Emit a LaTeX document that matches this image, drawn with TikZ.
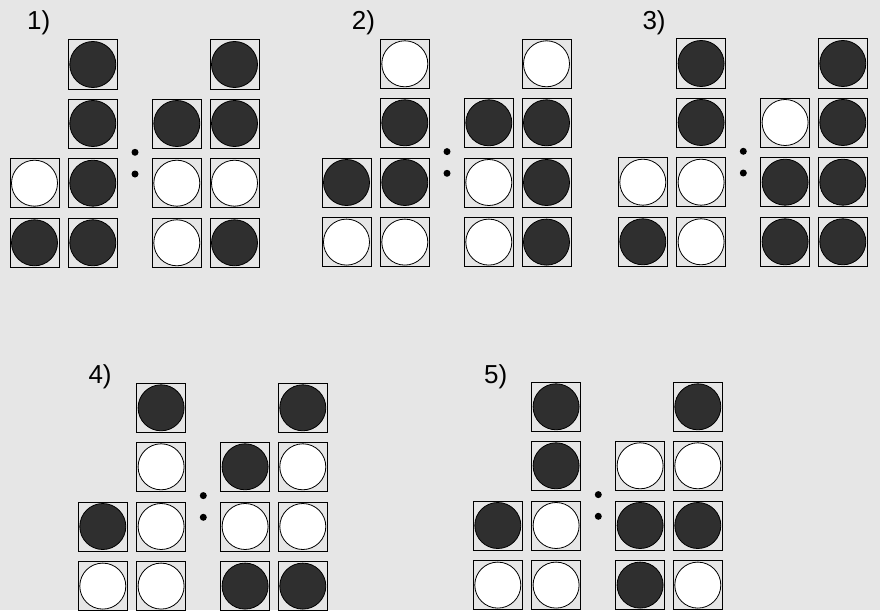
\documentclass[tikz,border=0pt]{standalone}
\usepackage{fontspec}
\setmainfont{Liberation Sans}
\definecolor{bgc}{HTML}{E6E6E6}
\definecolor{darkc}{HTML}{2F2F2F}
\newcommand\drawpanel[3]{%
  \begin{scope}[shift={(#1,#2)}]
  \foreach \c/\r/\t in {#3}{%
    \pgfmathsetmacro\xx{{0,58.3,142.3,200}[\c]}%
    \pgfmathsetmacro\yy{{0,59,118.7,178.3}[\r]}%
    \draw[sq] (\xx,\yy) rectangle ++(49,49);
    \draw[\t] (\xx+24.5,\yy+24.5) circle (23);
  }
  \fill (125,112.3) circle (3.5);
  \fill (125,134) circle (3.5);
  \end{scope}}
\begin{document}
\begin{tikzpicture}[x=1pt,y=-1pt,
  sq/.style={draw=black,line width=1pt,fill=bgc},
  blk/.style={draw=black,line width=0.8pt,fill=darkc},
  wht/.style={draw=black,line width=0.8pt,fill=white},
  lbl/.style={inner sep=0pt,anchor=base west,font=\fontsize{26}{30}\selectfont}]
\fill[bgc] (0,0) rectangle (880,610);
\useasboundingbox (0,0) rectangle (880,610);
% panel 1
\node[lbl] (l1) at (27,30) {1)};
\drawpanel{10}{40}{1/0/blk,3/0/blk,1/1/blk,2/1/blk,3/1/blk,0/2/wht,1/2/blk,2/2/wht,3/2/wht,0/3/blk,1/3/blk,2/3/wht,3/3/blk}
% panel 2
\node[lbl] (l2) at (351.7,30) {2)};
\drawpanel{322}{39.3}{1/0/wht,3/0/wht,1/1/blk,2/1/blk,3/1/blk,0/2/blk,1/2/blk,2/2/wht,3/2/blk,0/3/wht,1/3/wht,2/3/wht,3/3/blk}
% panel 3
\node[lbl] (l3) at (642.3,30) {3)};
\drawpanel{618.3}{39}{1/0/blk,3/0/blk,1/1/blk,2/1/wht,3/1/blk,0/2/wht,1/2/wht,2/2/blk,3/2/blk,0/3/blk,1/3/wht,2/3/blk,3/3/blk}
% panel 4
\node[lbl] (l4) at (88.3,383.3) {4)};
\drawpanel{78.3}{383.3}{1/0/blk,3/0/blk,1/1/wht,2/1/blk,3/1/wht,0/2/blk,1/2/wht,2/2/wht,3/2/wht,0/3/wht,1/3/wht,2/3/blk,3/3/blk}
% panel 5
\node[lbl] (l5) at (484,383) {5)};
\drawpanel{473.3}{382.3}{1/0/blk,3/0/blk,1/1/blk,2/1/wht,3/1/wht,0/2/blk,1/2/wht,2/2/blk,3/2/blk,0/3/wht,1/3/wht,2/3/blk,3/3/wht}
\end{tikzpicture}
\end{document}
